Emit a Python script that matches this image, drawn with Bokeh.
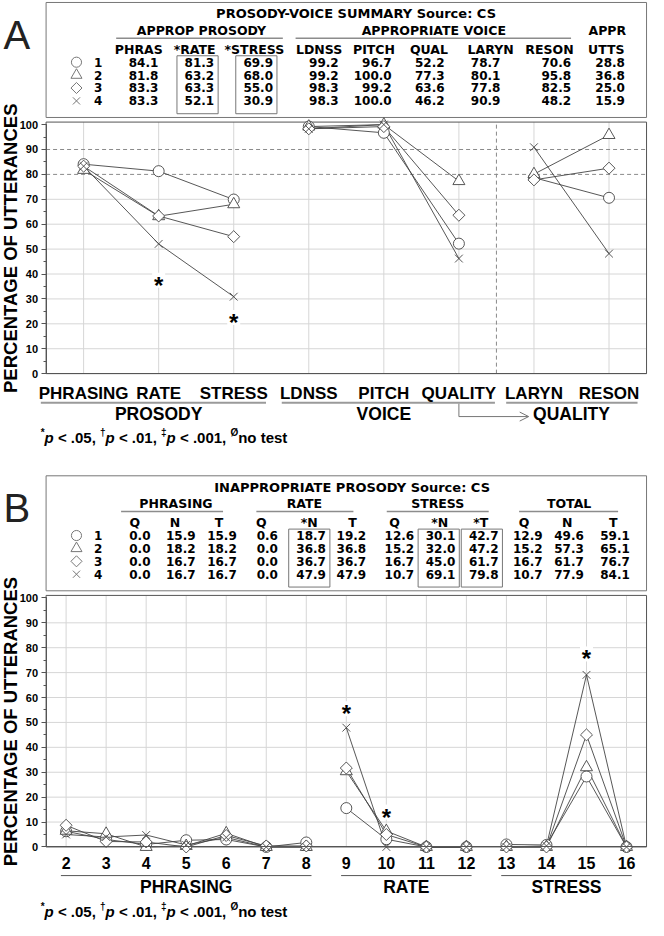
import math
from bokeh.plotting import figure
from bokeh.models import Range1d, LinearAxis, FixedTicker, SingleIntervalTicker, Arrow, OpenHead
from bokeh.core.properties import value
from bokeh.embed import file_html
from bokeh.resources import INLINE

NAN = float("nan")

# ======================= DATA =======================
series_labels = ["1", "2", "3", "4"]

# ---- Panel A : prosody-voice summary (% appropriate) ----
a_categories = ["PHRASING", "RATE", "STRESS", "LDNSS", "PITCH", "QUALITY", "LARYN", "RESON"]
a_group_names = ["PROSODY", "VOICE", "QUALITY"]
a_group_sizes = [3, 3, 2]
a_series_1 = [84.1, 81.3, 69.9, 99.2, 96.7, 52.2, 78.7, 70.6]
a_series_2 = [81.8, 63.2, 68.0, 99.2, 100.0, 77.3, 80.1, 95.8]
a_series_3 = [83.3, 63.3, 55.0, 98.3, 99.2, 63.6, 77.8, 82.5]
a_series_4 = [83.3, 52.1, 30.9, 98.3, 100.0, 46.2, 90.9, 48.2]
a_appr_utts = [28.8, 36.8, 25.0, 15.9]
a_table_title = "PROSODY-VOICE SUMMARY  Source: CS"
a_table_groups = ["APPROP PROSODY", "APPROPRIATE VOICE", "APPR"]
a_table_headers = ["PHRAS", "*RATE", "*STRESS", "LDNSS", "PITCH", "QUAL", "LARYN", "RESON", "UTTS"]
a_boxed_columns = [1, 2]
a_sig_category = [2, 3]
a_sig_value = [37.5, 22.5]

# ---- Panel B : inappropriate prosody (% of utterances) ----
b_items = [2, 3, 4, 5, 6, 7, 8, 9, 10, 11, 12, 13, 14, 15, 16]
b_group_names = ["PHRASING", "RATE", "STRESS"]
b_group_sizes = [7, 4, 4]
b_series_1 = [6.3, 3.0, 1.0, 2.7, 3.0, 0.0, 1.8, 15.6, 3.1, 0.0, 0.0, 1.0, 0.8, 28.3, 0.0]
b_series_2 = [6.5, 5.3, 0.0, 0.4, 5.5, 0.0, 0.0, 30.4, 6.4, 0.0, 0.0, 0.0, 0.0, 32.0, 0.0]
b_series_3 = [8.7, 2.2, 2.0, 0.0, 4.6, 0.4, 0.4, 31.7, 5.0, 0.0, 0.0, 0.0, 0.0, 45.0, 0.0]
b_series_4 = [5.0, 4.0, 4.8, 0.8, 3.8, 0.0, 0.0, 47.9, 0.0, 0.0, 0.0, 0.0, 0.4, 69.1, 0.0]
b_table_title = "INAPPROPRIATE PROSODY  Source: CS"
b_table_groups = ["PHRASING", "RATE", "STRESS", "TOTAL"]
b_table_headers = ["Q", "N", "T", "Q", "*N", "T", "Q", "*N", "*T", "Q", "N", "T"]
b_table_1 = [0.0, 15.9, 15.9, 0.6, 18.7, 19.2, 12.6, 30.1, 42.7, 12.9, 49.6, 59.1]
b_table_2 = [0.0, 18.2, 18.2, 0.0, 36.8, 36.8, 15.2, 32.0, 47.2, 15.2, 57.3, 65.1]
b_table_3 = [0.0, 16.7, 16.7, 0.0, 36.7, 36.7, 16.7, 45.0, 61.7, 16.7, 61.7, 76.7]
b_table_4 = [0.0, 16.7, 16.7, 0.0, 47.9, 47.9, 10.7, 69.1, 79.8, 10.7, 77.9, 84.1]
b_boxed_columns = [4, 7, 8]
b_sig_item = [9, 10, 15]
b_sig_value = [55.5, 14.0, 77.5]

footnote_pieces = [("*", "sup"), ("p", "ital"), (" < .05, ", "main"),
                   ("\u2020", "sup"), ("p", "ital"), (" < .01, ", "main"),
                   ("\u2021", "sup"), ("p", "ital"), (" < .001, ", "main"),
                   ("\u00d8", "sup"), ("no test", "main")]

# ======================= LAYOUT (reference-pixel units) =======================
W, H = 648, 920
WX = (2.0, 663.0)
WY = (932.0, 0.0)
SX = W / (WX[1] - WX[0])
FRAME_L, FRAME_R = 48.5, 661.0
PCT0_PX, PCT100_PX, PCT_TOP = 378.0, 125.7, 101
OFF_A, OFF_B = 0.0, 479.5

F_TAB = "DejaVu Sans"
F_LAB = "Liberation Sans"
INK = "#000000"
BOX_C = "#777777"
GRID_C = "#d6d6d6"
DASH_C = "#8a8a8a"
SER_C = "#444444"
MARKERS = [dict(marker="circle", size=11), dict(marker="triangle", size=12),
           dict(marker="square", size=8.5, angle=math.pi / 4), dict(marker="x", size=11)]


def mapped(v0, p0, v1, p1, w0, w1):
    k = (v1 - v0) / (p1 - p0)
    return Range1d(start=v0 + (w0 - p0) * k, end=v0 + (w1 - p0) * k)


p = figure(width=W, height=H, x_range=Range1d(*WX), y_range=Range1d(*WY),
           x_axis_location=None, y_axis_location=None, toolbar_location=None,
           output_backend="svg", min_border=0, outline_line_color=None)
p.xgrid.visible = False
p.ygrid.visible = False
p.background_fill_color = "white"
p.border_fill_color = "white"

p.extra_x_ranges = {"xa": mapped(0.5, FRAME_L, 8.5, FRAME_R, *WX),
                    "xb": mapped(1.5, FRAME_L, 16.5, FRAME_R, *WX)}
p.extra_y_ranges = {"ya": mapped(0, PCT0_PX + OFF_A, 100, PCT100_PX + OFF_A, *WY),
                    "yb": mapped(0, PCT0_PX + OFF_B, 100, PCT100_PX + OFF_B, *WY)}


def T(x, y, s, size, align="center", baseline="middle", font=F_LAB, style="bold",
      color=INK, angle=0.0, xr="default", yr="default", y_offset=0):
    xs = x if isinstance(x, list) else [x]
    ys = y if isinstance(y, list) else [y]
    ss = s if isinstance(s, list) else [s]
    p.text(x=xs, y=ys, text=ss, text_font=value(font), text_font_style=style,
           text_font_size=f"{size}px", text_align=align, text_baseline=baseline,
           text_color=color, angle=angle, x_range_name=xr, y_range_name=yr,
           y_offset=y_offset)


# ---------------- tables ----------------
ROW0, ROWSTEP = 62.5, 13.07


def draw_table(off, letter, title, title_cx, groups, group_cx, group_lines,
               headers, head_cx, col_right, rows, boxed):
    T(5, off + 35, letter, 40, align="left", baseline="alphabetic",
      font="Liberation Sans", style="normal", color="#222222")
    p.quad(left=[FRAME_L], right=[FRAME_R], top=[off + 2], bottom=[off + 118.5],
           fill_color=None, line_color=BOX_C, line_width=1)
    T(title_cx, off + 13.5, title, 13, font=F_TAB)
    T(group_cx, [off + 30] * len(groups), groups, 12.5, font=F_TAB)
    segs = [g for g in group_lines if g is not None]
    p.segment(x0=[a for a, b in segs], x1=[b for a, b in segs],
              y0=[off + 38.2] * len(segs), y1=[off + 38.2] * len(segs),
              line_color="#8c8c8c", line_width=1.5)
    T(head_cx, [off + 49.5] * len(headers), headers, 12.5, font=F_TAB)
    for i, row in enumerate(rows):
        y = off + ROW0 + ROWSTEP * i
        T(col_right, [y] * len(row), [f"{v:.1f}" for v in row], 12,
          align="right", font=F_TAB)
        spec = dict(MARKERS[i])
        spec["size"] = spec["size"] * 0.92
        p.scatter(x=[79.5], y=[y], fill_color=None, line_color="#777777",
                  line_width=1, **spec)
        T(97.5, y, series_labels[i], 12, align="left", font=F_TAB)
    for c in boxed:
        r = col_right[c]
        p.quad(left=[r - 38], right=[r + 4], top=[off + 56],
               bottom=[off + ROW0 + ROWSTEP * 3 + 13], fill_color=None,
               line_color=BOX_C, line_width=1)


a_rows = [s + [u] for s, u in zip([a_series_1, a_series_2, a_series_3, a_series_4], a_appr_utts)]
draw_table(OFF_A, "A", a_table_title, 367, a_table_groups, [207, 444, 621],
           [(120, 290), (303, 584), None], a_table_headers,
           [143, 200, 261, 327, 383, 439, 502, 562, 620],
           [163, 220, 280, 347, 401, 455, 512, 584, 639], a_rows, a_boxed_columns)

b_rows = [b_table_1, b_table_2, b_table_3, b_table_4]
draw_table(OFF_B, "B", b_table_title, 363, b_table_groups, [181, 312, 448, 582],
           [(125, 229), (263, 362), (396, 500), (531, 632)], b_table_headers,
           [139, 180, 225, 268, 317, 361, 404, 450, 492, 536, 580, 627],
           [155, 201, 243, 285, 334, 375, 424, 466, 510, 555, 597, 644], b_rows, b_boxed_columns)


# ---------------- charts ----------------
def with_breaks(xs, ys, sizes):
    X, Y, i = [], [], 0
    for n in sizes:
        X += list(xs[i:i + n]) + [NAN]
        Y += list(ys[i:i + n]) + [NAN]
        i += n
    return X[:-1], Y[:-1]


def draw_chart(off, xr, yr, cats, x_lo, x_hi, series, sizes, hdash, vdash,
               overrides, label_size, sig_x, sig_y):
    kw = dict(x_range_name=xr, y_range_name=yr)
    hs = [v for v in range(10, 100, 10) if v not in hdash]
    p.segment(x0=[x_lo] * len(hs), x1=[x_hi] * len(hs), y0=hs, y1=hs,
              line_color=GRID_C, line_width=1, **kw)
    p.segment(x0=cats, x1=cats, y0=[0] * len(cats), y1=[PCT_TOP] * len(cats),
              line_color=GRID_C, line_width=1, **kw)
    if hdash:
        p.segment(x0=[x_lo] * len(hdash), x1=[x_hi] * len(hdash), y0=hdash, y1=hdash,
                  line_color=DASH_C, line_width=1, line_dash="4 3", **kw)
    if vdash:
        p.segment(x0=vdash, x1=vdash, y0=[0] * len(vdash), y1=[PCT_TOP] * len(vdash),
                  line_color=DASH_C, line_width=1, line_dash="4 3", **kw)
    p.quad(left=[x_lo], right=[x_hi], bottom=[0], top=[PCT_TOP], fill_color=None,
           line_color="#555555", line_width=1, **kw)

    yax = LinearAxis(x_range_name=xr, y_range_name=yr, fixed_location=x_lo, bounds=(0, 100),
                     ticker=SingleIntervalTicker(interval=10, num_minor_ticks=2),
                     major_tick_out=5, major_tick_in=0, minor_tick_out=3, minor_tick_in=0,
                     major_label_standoff=3, axis_line_color="#555555",
                     major_tick_line_color="#555555", minor_tick_line_color="#555555",
                     major_label_text_font=F_LAB, major_label_text_font_style="bold",
                     major_label_text_font_size="11px", major_label_text_color=INK)
    p.add_layout(yax, "left")
    xax = LinearAxis(x_range_name=xr, y_range_name=yr, fixed_location=0, bounds=(x_lo, x_hi),
                     ticker=FixedTicker(ticks=cats), major_tick_out=0, major_tick_in=0,
                     minor_tick_out=0, minor_tick_in=0, major_label_standoff=10,
                     axis_line_color="#555555", major_label_text_font=F_LAB,
                     major_label_text_font_style="bold",
                     major_label_text_font_size=f"{label_size}px", major_label_text_color=INK)
    if overrides:
        xax.major_label_overrides = overrides
    p.add_layout(xax, "below")

    # significance marks with a white halo
    p.rect(x=sig_x, y=sig_y, width=13, height=15, width_units="screen", height_units="screen",
           fill_color="white", line_color=None, **kw)
    T(sig_x, sig_y, ["*"] * len(sig_x), 24, xr=xr, yr=yr, y_offset=5)

    for vals in series:
        X, Y = with_breaks(cats, vals, sizes)
        p.line(X, Y, line_color=SER_C, line_width=0.9, **kw)
    for vals, spec in zip(series, MARKERS):
        p.scatter(x=cats, y=vals, fill_color="white", line_color=SER_C, line_width=0.9,
                  **spec, **kw)

    # y-axis title
    T(12, off + 251, "PERCENTAGE OF UTTERANCES", 18.5, angle=math.pi / 2)


a_pos = list(range(1, len(a_categories) + 1))
draw_chart(OFF_A, "xa", "ya", a_pos, 0.5, 8.5,
           [a_series_1, a_series_2, a_series_3, a_series_4], a_group_sizes,
           [80, 90], [6.5], {i: c for i, c in zip(a_pos, a_categories)}, 17,
           a_sig_category, a_sig_value)
draw_chart(OFF_B, "xb", "yb", b_items, 1.5, 16.5,
           [b_series_1, b_series_2, b_series_3, b_series_4], b_group_sizes,
           [], [], None, 16, b_sig_item, b_sig_value)


# ---------------- group labels below the charts ----------------
def group_info(cats, sizes):
    out, i = [], 0
    for n in sizes:
        out.append((cats[i], cats[i + n - 1]))
        i += n
    return out


a_ranges = group_info(a_pos, a_group_sizes)
a_lines = [(0.43, 3.43), (3.64, 6.48), (6.63, 8.38)]
p.segment(x0=[a for a, b in a_lines], x1=[b for a, b in a_lines],
          y0=[OFF_A + 407.5] * 3, y1=[OFF_A + 407.5] * 3,
          line_color="#9a9a9a", line_width=2.2, x_range_name="xa")
T([(a + b) / 2 for a, b in a_ranges], [OFF_A + 419] * 3, a_group_names, 17.5, xr="xa")
# arrow from VOICE/QUALITY to laryngeal/resonance QUALITY
p.segment(x0=[6], x1=[6], y0=[OFF_A + 408.5], y1=[OFF_A + 421.5],
          line_color="#777777", line_width=1, x_range_name="xa")
p.add_layout(Arrow(end=OpenHead(size=9, line_color="#777777", line_width=1),
                   x_start=6, y_start=OFF_A + 421.5, x_end=6.93, y_end=OFF_A + 421.5,
                   line_color="#777777", line_width=1, x_range_name="xa"))

b_ranges = group_info(b_items, b_group_sizes)
p.segment(x0=[a - 0.13 for a, b in b_ranges], x1=[b + 0.13 for a, b in b_ranges],
          y0=[OFF_B + 407] * 3, y1=[OFF_B + 407] * 3,
          line_color="#555555", line_width=1, x_range_name="xb")
T([(a + b) / 2 for a, b in b_ranges], [OFF_B + 418.5] * 3, b_group_names, 17.5, xr="xb")

# ---------------- footnotes ----------------
AW = {' ': 278, '*': 389, ',': 278, '.': 278, '<': 584, 'p': 611, 'n': 611, 'o': 611,
      't': 333, 'e': 556, 's': 556, '\u2020': 556, '\u2021': 556, '\u00d8': 778}
for d in "0123456789":
    AW[d] = 556
FOOT_MAIN, FOOT_SUP = 15, 10


def adv(s, size):
    return sum(AW.get(c, 556) for c in s) * size / 1000.0 / SX


def footnote(x0, yc):
    x = x0
    for s, kind in footnote_pieces:
        size = FOOT_SUP if kind == "sup" else FOOT_MAIN
        lead = len(s) - len(s.lstrip(" "))
        core = s.strip(" ")
        style = "bold italic" if kind == "ital" else "bold"
        y = yc - 5 if kind == "sup" else yc
        T(x + adv(s[:lead], size), y, core, size, align="left", style=style)
        x += adv(s, size)


footnote(43, OFF_A + 443)
footnote(43, OFF_B + 443)

open("out.html", "w").write(file_html(p, INLINE))
